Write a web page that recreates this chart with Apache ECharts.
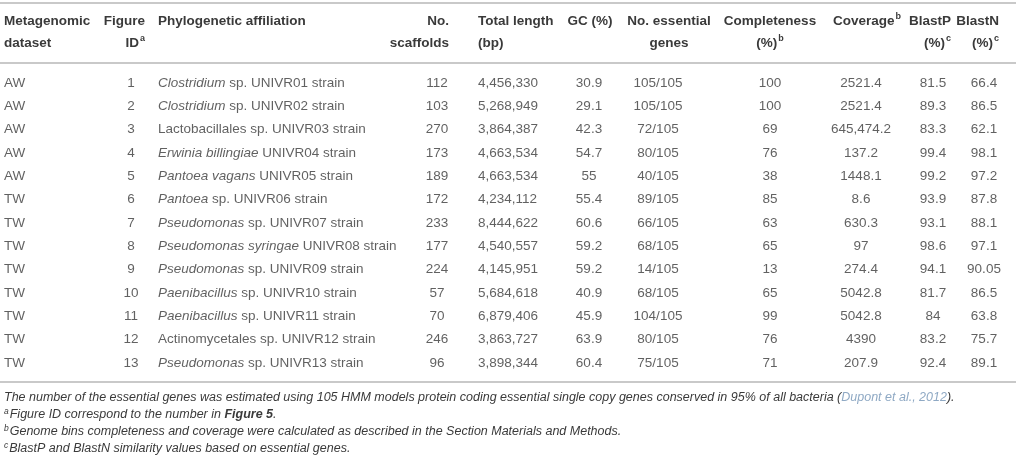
<!DOCTYPE html>
<html>
<head>
<meta charset="utf-8">
<script src="https://cdn.jsdelivr.net/npm/echarts@6/dist/echarts.min.js"></script>
<style>
html,body{margin:0;padding:0;background:#fff;}
#chart{width:1016px;height:461px;}
</style>
</head>
<body>
<div id="chart"></div>
<script>
// ---- data ----
const datasets = ['AW','AW','AW','AW','AW','TW','TW','TW','TW','TW','TW','TW','TW'];
const figureIds = [1,2,3,4,5,6,7,8,9,10,11,12,13];
const genusParts = ['Clostridium','Clostridium','','Erwinia billingiae','Pantoea vagans','Pantoea','Pseudomonas','Pseudomonas syringae','Pseudomonas','Paenibacillus','Paenibacillus','','Pseudomonas'];
const affiliationRest = [' sp. UNIVR01 strain',' sp. UNIVR02 strain','Lactobacillales sp. UNIVR03 strain',' UNIVR04 strain',' UNIVR05 strain',' sp. UNIVR06 strain',' sp. UNIVR07 strain',' UNIVR08 strain',' sp. UNIVR09 strain',' sp. UNIVR10 strain',' sp. UNIVR11 strain','Actinomycetales sp. UNIVR12 strain',' sp. UNIVR13 strain'];
const scaffolds = [112,103,270,173,189,172,233,177,224,57,70,246,96];
const totalLength = [4456330,5268949,3864387,4663534,4663534,4234112,8444622,4540557,4145951,5684618,6879406,3863727,3898344];
const gc = ['30.9','29.1','42.3','54.7','55','55.4','60.6','59.2','59.2','40.9','45.9','63.9','60.4'];
const essentialGenes = ['105/105','105/105','72/105','80/105','40/105','89/105','66/105','68/105','14/105','68/105','104/105','80/105','75/105'];
const completeness = [100,100,69,76,38,85,63,65,13,65,99,76,71];
const coverage = ['2521.4','2521.4','645,474.2','137.2','1448.1','8.6','630.3','97','274.4','5042.8','5042.8','4390','207.9'];
const blastP = ['81.5','89.3','83.3','99.4','99.2','93.9','93.1','98.6','94.1','81.7','84','83.2','92.4'];
const blastN = ['66.4','86.5','62.1','98.1','97.2','87.8','88.1','97.1','90.05','86.5','63.8','75.7','89.1'];

const headers = [
  {text:'Metagenomic\ndataset', sup:''},
  {text:'Figure\nID', sup:'a'},
  {text:'Phylogenetic affiliation', sup:''},
  {text:'No.\nscaffolds', sup:''},
  {text:'Total length\n(bp)', sup:''},
  {text:'GC (%)', sup:''},
  {text:'No. essential\ngenes', sup:''},
  {text:'Completeness\n(%)', sup:'b'},
  {text:'Coverage', sup:'b'},
  {text:'BlastP\n(%)', sup:'c'},
  {text:'BlastN\n(%)', sup:'c'}
];

// ---- layout / style ----
const W = 1016, H = 461;
const FONT = '"Liberation Sans", Arial, sans-serif';
const FS = 13.5;
const TXT = '#3a3a3a';
const RULE = '#c9c9c9';
const rowCenterFirst = 83, rowStep = 23.33;
const gridTop = rowCenterFirst - rowStep/2;
const gridBottom = H - (gridTop + rowStep*datasets.length);
// column anchors
const cols = [
  {x:4,   align:'left',   hx:4,   ha:'left'},
  {x:131, align:'center', hx:145, ha:'right'},
  {x:158, align:'left',   hx:158, ha:'left'},
  {x:437, align:'center', hx:449, ha:'right'},
  {x:478, align:'left',   hx:478, ha:'left'},
  {x:589, align:'center', hx:590, ha:'center'},
  {x:658, align:'center', hx:669, ha:'center'},
  {x:770, align:'center', hx:770, ha:'center'},
  {x:861, align:'center', hx:867, ha:'center'},
  {x:933, align:'center', hx:951, ha:'right'},
  {x:984, align:'center', hx:999, ha:'right'}
];

const fmtInt = n => String(n).replace(/\B(?=(\d{3})+(?!\d))/g, ',');
const affiliation = genusParts.map((g,i) => (g ? '{i|' + g + '}' : '') + affiliationRest[i]);
const columns = [
  datasets, figureIds.map(String), affiliation, scaffolds.map(String), totalLength.map(fmtInt),
  gc, essentialGenes, completeness.map(String), coverage, blastP, blastN
];

const series = columns.map((vals, c) => ({
  type: 'scatter',
  silent: true,
  symbolSize: 0,
  data: vals.map((v, i) => ({value: [cols[c].x, i], label: {formatter: v}})),
  label: {
    show: true, position: 'inside', align: cols[c].align, verticalAlign: 'middle',
    color: TXT, fontFamily: FONT, fontSize: FS,
    rich: {i: {fontStyle: 'italic', color: TXT, fontFamily: FONT, fontSize: FS}}
  }
}));

// header graphics
const graphic = [];
const hl = (y) => ({type:'line', silent:true, shape:{x1:0,y1:y,x2:W,y2:y}, style:{stroke:RULE, lineWidth:2}});
graphic.push(hl(3), hl(63), hl(382));

headers.forEach((h, c) => {
  const lines = h.text.split('\n');
  lines.forEach((ln, k) => {
    const isLast = k === lines.length - 1;
    const t = isLast && h.sup ? '{b|' + ln + '}{s|' + h.sup + '}' : '{b|' + ln + '}';
    graphic.push({
      type:'text', silent:true, x: cols[c].hx, y: 21 + k*22,
      style:{
        text: t, align: cols[c].ha, verticalAlign:'middle',
        rich:{
          b:{fontWeight:'bold', fontSize:FS, fontFamily:FONT, fill:TXT, lineHeight:16},
          s:{fontWeight:'bold', fontSize:9, fontFamily:FONT, fill:TXT, lineHeight:16, padding:[0,0,8,1]}
        }
      }
    });
  });
});

const notes = [
  '{n|The number of the essential genes was estimated using 105 HMM models protein coding essential single copy genes conserved in 95% of all bacteria (}{l|Dupont et al., 2012}{n|).}',
  '{s|a}{n|Figure ID correspond to the number in }{bi|Figure 5}{n|.}',
  '{s|b}{n|Genome bins completeness and coverage were calculated as described in the Section Materials and Methods.}',
  '{s|c}{n|BlastP and BlastN similarity values based on essential genes.}'
];
const NF = 12.5;
notes.forEach((t, k) => {
  graphic.push({
    type:'text', silent:true, x:4, y:398 + k*17,
    style:{
      text:t, align:'left', verticalAlign:'middle',
      rich:{
        n:{fontStyle:'italic', fontSize:NF, fontFamily:FONT, fill:TXT, lineHeight:15},
        l:{fontStyle:'italic', fontSize:NF, fontFamily:FONT, fill:'#8fa9c4', lineHeight:15},
        bi:{fontStyle:'italic', fontWeight:'bold', fontSize:NF, fontFamily:FONT, fill:TXT, lineHeight:15},
        s:{fontStyle:'italic', fontSize:8.5, fontFamily:FONT, fill:TXT, lineHeight:15, padding:[0,1,6,0]}
      }
    }
  });
});

const chart = echarts.init(document.getElementById('chart'), null, {renderer:'canvas'});
chart.setOption({
  animation: false,
  backgroundColor: '#fff',
  grid: {left: 0, right: 0, top: gridTop, bottom: gridBottom},
  xAxis: {type:'value', min:0, max:W, show:false},
  yAxis: {type:'category', data: figureIds.map(String), inverse:true, show:false},
  series: series,
  graphic: graphic
});
</script>
</body>
</html>
